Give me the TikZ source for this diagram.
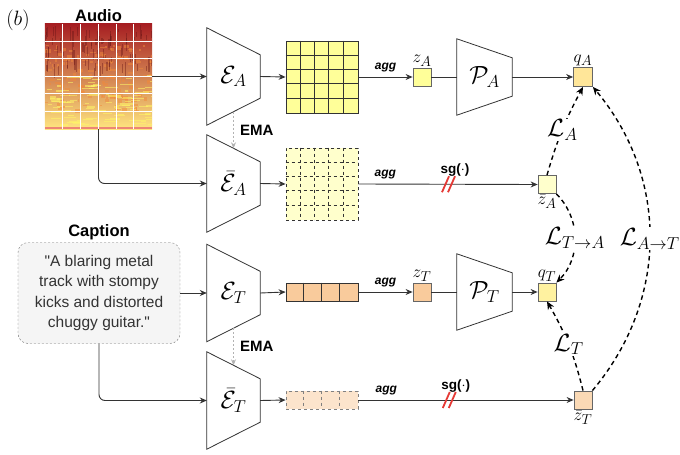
\documentclass[tikz,border=0pt]{standalone}
\usepackage{amsmath}
\usepackage{amssymb}
\usepackage{fontspec}
\newfontfamily\arialfont{Liberation Sans}
\usetikzlibrary{arrows.meta,calc,positioning}

\definecolor{gridyellow}{HTML}{FFFF99}
\definecolor{paleyellow}{HTML}{FFFFCC}
\definecolor{qyellow}{HTML}{FFE699}
\definecolor{qtyellow}{HTML}{FFF2A0}
\definecolor{peach}{HTML}{F9CB9C}
\definecolor{palepeach}{HTML}{FCE4CC}
\definecolor{zbpeach}{HTML}{FAD9B5}
\definecolor{capgray}{HTML}{F5F5F5}
\definecolor{linegray}{HTML}{333333}
\definecolor{sgred}{HTML}{E53935}
\definecolor{specdark}{HTML}{A61E22}
\definecolor{specred}{HTML}{E4523A}
\definecolor{specorange}{HTML}{F08A3C}
\definecolor{specyellow}{HTML}{FFE680}

% trapezoid block: name, x, y, width, height, inset, label
\newcommand{\trapnode}[7]{%
  \node[trapbox, minimum width=#4pt, minimum height=#5pt] (#1) at (#2,#3) {#7};
  \draw[trap] (#1.north west) -- ($(#1.north east)+(0,#6)$)
    -- ($(#1.south east)+(0,-#6)$) -- (#1.south west) -- cycle;
}

\begin{document}
\begin{tikzpicture}[x=1pt, y=-1pt,
  conn/.style={draw=linegray, line width=0.9pt, -{Stealth[length=7pt,width=6pt]}},
  plain/.style={draw=linegray, line width=0.9pt},
  trap/.style={draw=linegray, line width=0.8pt},
  trapbox/.style={inner sep=0pt, font=\fontsize{27}{30}\selectfont},
  vec/.style={draw=black!60, line width=0.8pt, minimum width=18pt, minimum height=18pt, inner sep=0pt},
  loss/.style={draw=black, line width=1.4pt, dash pattern=on 4.5pt off 3.5pt, -{Stealth[length=8pt,width=7pt]}},
  losslbl/.style={fill=white, inner sep=1pt, font=\fontsize{23}{26}\selectfont},
  ema/.style={draw=black!30, line width=0.8pt, dash pattern=on 2pt off 2pt, -{Stealth[length=6pt,width=5pt]}},
  lbl/.style={font=\arialfont\bfseries\fontsize{15}{18}\selectfont},
  title/.style={font=\arialfont\bfseries\fontsize{16.5}{19}\selectfont, inner sep=1pt},
  agg/.style={font=\arialfont\bfseries\itshape\fontsize{12}{14}\selectfont, above=1pt},
  sglbl/.style={font=\arialfont\bfseries\fontsize{13.5}{16}\selectfont},
  mathlbl/.style={font=\fontsize{19}{22}\selectfont, inner sep=1pt},
  capbox/.style={draw=black!55, dash pattern=on 2pt off 2pt, fill=capgray, rounded corners=10pt,
    minimum width=162pt, minimum height=101pt, align=center, text=black!80,
    font=\arialfont\fontsize{15.5}{20.5}\selectfont}
]
\useasboundingbox (0,0) rectangle (680,455);

% panel tag
\node (tag) at (18,20) {\fontsize{20}{22}\selectfont $(b)$};

% spectrogram input
\node[minimum width=107pt, minimum height=105pt, inner sep=0pt] (spec) at (98.5,76.5) {};
\shade[top color=specdark, middle color=specred, bottom color=specyellow]
  (spec.north west) rectangle (spec.south east);
\begin{scope}
  \clip (spec.north west) rectangle (spec.south east);
  \pgfmathsetseed{11}
  % orange flecks (middle)
  \foreach \i in {1,...,160} {
    \pgfmathsetmacro{\xx}{45+107*rnd}
    \pgfmathsetmacro{\yy}{45+65*rnd}
    \pgfmathsetmacro{\ww}{1+5*rnd}
    \pgfmathsetmacro{\hh}{1+3*rnd}
    \fill[specorange, opacity=0.5] (\xx,\yy) rectangle ++(\ww,\hh);
  }
  % dark streaks (top)
  \foreach \i in {1,...,80} {
    \pgfmathsetmacro{\xx}{45+107*rnd}
    \pgfmathsetmacro{\yy}{24+45*rnd}
    \pgfmathsetmacro{\hh}{3+12*rnd}
    \fill[specdark!60!black, opacity=0.4] (\xx,\yy) rectangle ++(1.2,\hh);
  }
  % bright harmonics (bottom)
  \foreach \i in {1,...,110} {
    \pgfmathsetmacro{\xx}{45+107*rnd}
    \pgfmathsetmacro{\yy}{75+50*rnd}
    \pgfmathsetmacro{\ww}{3+12*rnd}
    \fill[yellow!60!white, opacity=0.55] (\xx,\yy) rectangle ++(\ww,1.2);
  }
  \fill[specred!70] ($(spec.south west)+(0,-2.5)$) rectangle (spec.south east);
  % white grid
  \foreach \k in {1,...,5} {
    \draw[white, line width=1pt] ($(spec.north west)+(17.8*\k,0)$) -- ++(0,105);
    \draw[white, line width=1pt] ($(spec.north west)+(0,17.5*\k)$) -- ++(107,0);
  }
\end{scope}
\node[title, above=1pt of spec] (audiolbl) {Audio};

% caption input
\node[capbox] (cap) at (99,293) {"A blaring metal\\track with stompy\\kicks and distorted\\chuggy guitar."};
\node[title, above=1pt of cap] (caplbl) {Caption};

% encoders and projectors
\trapnode{EA}{233.5}{76.5}{53}{97}{27}{$\mathcal{E}_A$}
\trapnode{EbA}{233.5}{183.5}{53}{97}{27}{$\bar{\mathcal{E}}_A$}
\trapnode{ET}{233.5}{293}{53}{97}{27}{$\mathcal{E}_T$}
\trapnode{EbT}{233.5}{400.5}{53}{97}{27}{$\bar{\mathcal{E}}_T$}
\trapnode{PA}{484.5}{77}{55}{76}{19}{$\mathcal{P}_A$}
\trapnode{PT}{484.5}{292}{55}{76}{19}{$\mathcal{P}_T$}

% audio feature grids
\node[draw=linegray, line width=0.8pt, fill=gridyellow, minimum size=72pt, inner sep=0pt] (gridA) at (322,77) {};
\node[draw=linegray, line width=0.8pt, dashed, fill=paleyellow, minimum size=72pt, inner sep=0pt] (gridbA) at (322,184) {};
\foreach \k in {1,...,4} {
  \draw[linegray, line width=0.8pt] ($(gridA.north west)+(14.4*\k,0)$) -- ++(0,72);
  \draw[linegray, line width=0.8pt] ($(gridA.north west)+(0,14.4*\k)$) -- ++(72,0);
  \draw[linegray, line width=0.8pt, dashed] ($(gridbA.north west)+(14.4*\k,0)$) -- ++(0,72);
  \draw[linegray, line width=0.8pt, dashed] ($(gridbA.north west)+(0,14.4*\k)$) -- ++(72,0);
}

% text token cells
\node[draw=linegray, line width=0.8pt, fill=peach, minimum width=72pt, minimum height=18pt, inner sep=0pt] (cellT) at (322,292) {};
\node[draw=black!50, line width=0.8pt, dashed, fill=palepeach, minimum width=72pt, minimum height=18pt, inner sep=0pt] (cellbT) at (322,400) {};
\foreach \k in {1,2,3} {
  \draw[linegray, line width=0.8pt] ($(cellT.north west)+(18*\k,0)$) -- ++(0,18);
  \draw[black!50, line width=0.8pt, dashed] ($(cellbT.north west)+(18*\k,0)$) -- ++(0,18);
}

% pooled vectors
\node[vec, fill=gridyellow] (zA) at (422,77) {};
\node[mathlbl, above=0pt of zA] (zAlbl) {$z_A$};
\node[vec, fill=qyellow, minimum size=19pt] (qA) at (583,77) {};
\node[mathlbl, above=0pt of qA] (qAlbl) {$q_A$};
\node[vec, fill=paleyellow] (zbA) at (547,184.5) {};
\node[mathlbl, below=0pt of zbA] (zbAlbl) {$\bar{z}_A$};
\node[vec, fill=peach] (zT) at (422,292) {};
\node[mathlbl, above=0pt of zT] (zTlbl) {$z_T$};
\node[vec, fill=qtyellow] (qT) at (547,292) {};
\node[mathlbl, above=0pt of qT] (qTlbl) {$q_T$};
\node[vec, fill=zbpeach] (zbT) at (583,400) {};
\node[mathlbl, below=0pt of zbT] (zbTlbl) {$\bar{z}_T$};

% audio branch
\draw[conn] (spec.east) -- (EA.west);
\draw[conn, rounded corners=6pt] (spec.south) |- (EbA.west);
\draw[conn] (EA.east) -- (gridA.west);
\draw[conn] (gridA.east) -- node[agg] (aggA) {agg} (zA.west);
\draw[plain] (zA.east) -- (PA.west);
\draw[conn] (PA.east) -- (qA.west);
\draw[conn] (EbA.east) -- (gridbA.west);
\draw[conn] (gridbA.east) -- node[agg, pos=0.15] (aggbA) {agg} coordinate[pos=0.5] (sgA) (zbA.west);
\node[sglbl, above=4pt of sgA, xshift=7pt] (sgAlbl) {sg($\cdot$)};
\draw[sgred, line width=1.8pt] ($(sgA)+(-6,8)$) -- ++(7,-16);
\draw[sgred, line width=1.8pt] ($(sgA)+(0,8)$) -- ++(7,-16);
\draw[ema] ($(EA.south)+(0,-13.5)$) -- node[lbl, right=3pt] (emaA) {EMA} ($(EbA.north)+(0,13.5)$);

% text branch
\draw[conn] (cap.east) -- (ET.west);
\draw[conn, rounded corners=6pt] (cap.south) |- (EbT.west);
\draw[conn] (ET.east) -- (cellT.west);
\draw[conn] (cellT.east) -- node[agg] (aggT) {agg} (zT.west);
\draw[plain] (zT.east) -- (PT.west);
\draw[conn] (PT.east) -- (qT.west);
\draw[conn] (EbT.east) -- (cellbT.west);
\draw[conn] (cellbT.east) -- node[agg, pos=0.13] (aggbT) {agg} coordinate[pos=0.42] (sgT) (zbT.west);
\node[sglbl, above=4pt of sgT, xshift=7pt] (sgTlbl) {sg($\cdot$)};
\draw[sgred, line width=1.8pt] ($(sgT)+(-6,8)$) -- ++(7,-16);
\draw[sgred, line width=1.8pt] ($(sgT)+(0,8)$) -- ++(7,-16);
\draw[ema] ($(ET.south)+(0,-13.5)$) -- node[lbl, right=3pt] (emaT) {EMA} ($(EbT.north)+(0,13.5)$);

% losses
\draw[loss] (zbA.north) to[bend left=6] node[losslbl] (LA) {$\mathcal{L}_A$} (qA.south);
\draw[loss] (zbA.south east) to[bend left=45] node[losslbl] (LTA) {$\mathcal{L}_{T\to A}$} (qT.north east);
\draw[loss] (zbT.north) to[bend right=8] node[losslbl] (LT) {$\mathcal{L}_T$} (qT.south);
\draw[loss] (zbT.north east) to[bend right=40] node[losslbl] (LAT) {$\mathcal{L}_{A\to T}$} (qA.south east);
\end{tikzpicture}
\end{document}
